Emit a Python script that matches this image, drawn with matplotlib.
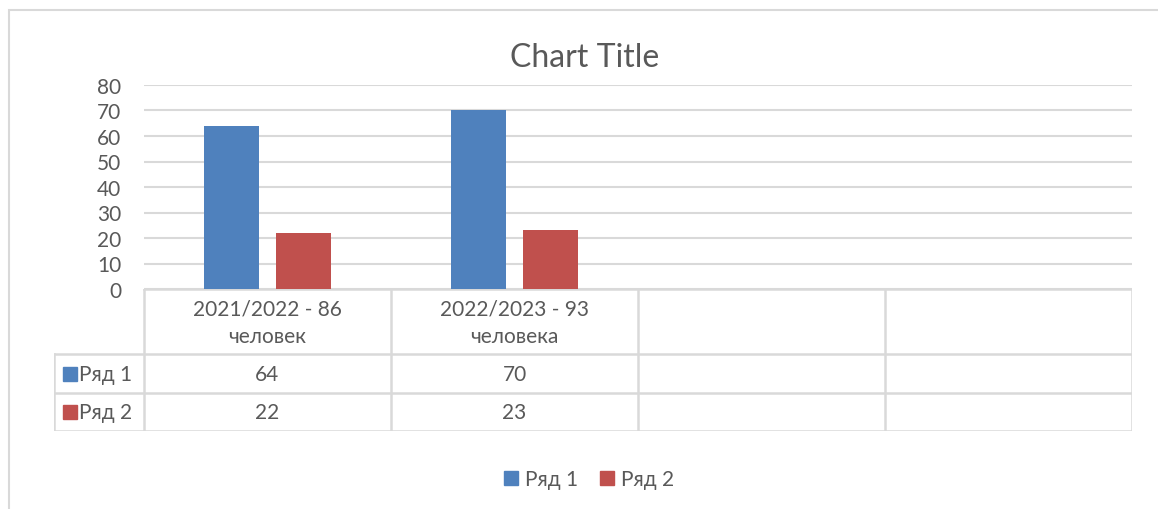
import matplotlib
matplotlib.use("Agg")
import matplotlib.pyplot as plt
from matplotlib.patches import Rectangle
from matplotlib.lines import Line2D

plt.rcParams['font.family'] = ['Lato', 'Noto Sans', 'DejaVu Sans']

# data
categories = ["2021/2022 - 86\nчеловек", "2022/2023 - 93\nчеловека", "", ""]
series_names = ["Ряд 1", "Ряд 2"]
series_1 = [64, 70, None, None]
series_2 = [22, 23, None, None]
y_ticks = [0, 10, 20, 30, 40, 50, 60, 70, 80]

blue = "#4F81BD"
red = "#C0504D"
grey_txt = "#595959"
grid_col = "#D9D9D9"
fs = 15

W, H = 1158, 510
fig = plt.figure(figsize=(W / 100, H / 100), dpi=100)

# outer chart border (open to the right / bottom like the crop)
fig.patches.append(Rectangle((9 / W, -0.1), 1.2, 1 - 11 / H + 0.1, transform=fig.transFigure,
                             fill=False, edgecolor=grid_col, lw=1.5))

# plot area
px_left, px_right, px_top, px_bottom = 144, 1132, 86, 290
ax = fig.add_axes([px_left / W, 1 - px_bottom / H, (px_right - px_left) / W, (px_bottom - px_top) / H])
x = list(range(len(categories)))
bw = 0.223
off = 0.144
v1 = [v if v is not None else 0 for v in series_1]
v2 = [v if v is not None else 0 for v in series_2]
ax.bar([i - off for i in x], v1, bw, color=blue, zorder=3)
ax.bar([i + off for i in x], v2, bw, color=red, zorder=3)
ax.set_xlim(-0.5, len(categories) - 0.5)
ax.set_ylim(0, 80)
ax.set_yticks(y_ticks)
ax.yaxis.grid(True, color=grid_col, lw=1.5)
ax.set_axisbelow(True)
for s in ax.spines.values():
    s.set_visible(False)
ax.set_xticks([])
ax.tick_params(axis='y', length=0, labelsize=fs, labelcolor=grey_txt, pad=16.5)

fig.text(585 / W, 1 - 58 / H, "Chart Title", ha='center', va='center', fontsize=23, color=grey_txt)

# data table below the plot, sharing the category scale
label_px = px_left - 54
unit_px = (px_right - px_left) / len(categories)
x0 = -0.5 - label_px / unit_px
row_h = [1.68, 1.0, 0.98]
tax = fig.add_axes([54 / W, 1 - 432 / H, (px_right - 54) / W, (432 - px_bottom) / H])
tax.set_xlim(x0, len(categories) - 0.5)
tax.set_ylim(sum(row_h), 0)
tax.axis('off')

bounds = [0]
for h in row_h:
    bounds.append(bounds[-1] + h)
lkw = dict(color=grid_col, lw=1.8, solid_capstyle='projecting')
tax.plot([-0.5, len(categories) - 0.5], [0, 0], **lkw)
for b in bounds[1:]:
    tax.plot([x0, len(categories) - 0.5], [b, b], **lkw)
for i in range(len(categories) + 1):
    tax.plot([i - 0.5, i - 0.5], [0, bounds[-1]], **lkw)
tax.plot([x0, x0], [bounds[1], bounds[-1]], **lkw)

for i, c in enumerate(categories):
    tax.text(i, bounds[1] / 2 + 0.02, c, ha='center', va='center', fontsize=fs, color=grey_txt, linespacing=1.45)

colors = [blue, red]
for r, (name, vals) in enumerate(zip(series_names, [series_1, series_2])):
    yc = (bounds[r + 1] + bounds[r + 2]) / 2
    tax.plot(x0 + 0.063, yc, marker='s', ms=10, color=colors[r], clip_on=False)
    tax.text(x0 + 0.103, yc, name, ha='left', va='center', fontsize=fs, color=grey_txt)
    for i, v in enumerate(vals):
        if v is not None:
            tax.text(i, yc, str(v), ha='center', va='center', fontsize=fs, color=grey_txt)

handles = [Line2D([], [], marker='s', ls='', ms=10, color=c) for c in colors]
fig.legend(handles, series_names, loc='center', bbox_to_anchor=(589 / W, 1 - 480 / H), ncol=2,
           frameon=False, fontsize=fs, labelcolor=grey_txt, handlelength=0.7,
           handletextpad=0.35, columnspacing=1.0)

fig.savefig("out.png", dpi=100)
